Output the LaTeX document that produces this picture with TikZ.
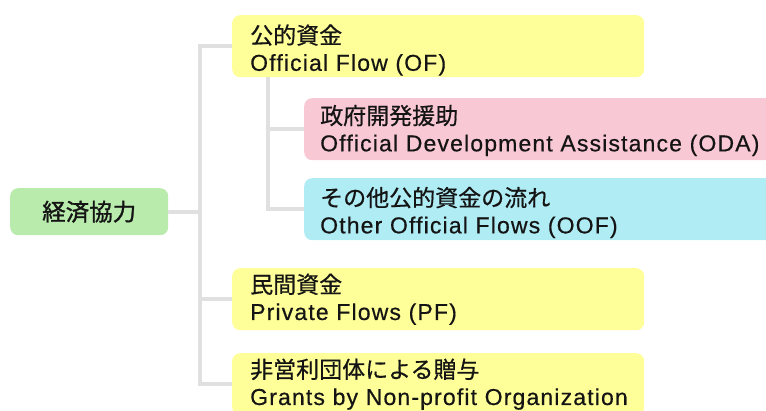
\documentclass[tikz,border=0pt]{standalone}
\usepackage{fontspec}
\newfontfamily\enfont[LetterSpace=5,FakeBold=0.5]{Liberation Sans}
\newfontfamily\cjk[FakeBold=0.6]{Noto Sans CJK JP}
\newfontfamily\cjkb[FakeBold=1.2]{Noto Sans CJK JP}
\definecolor{yel}{RGB}{255,255,153}
\definecolor{pnk}{RGB}{248,200,212}
\definecolor{cyn}{RGB}{176,236,244}
\definecolor{grn}{RGB}{184,235,172}
\definecolor{lin}{RGB}{224,224,224}
\definecolor{txt}{RGB}{20,20,20}
\newcommand\topstrut[1]{\rule{0pt}{#1}}
\tikzset{
  boxbase/.style={rounded corners=8pt, inner xsep=18pt, inner ysep=0pt, align=left,
    anchor=north west, minimum height=62pt, text=txt,
    font=\fontsize{23}{27}\selectfont\enfont},
  conn/.style={draw=lin, line width=4pt},
}
\begin{document}
\begin{tikzpicture}[x=1pt,y=1pt]
\useasboundingbox (0,0) rectangle (766,410);
% boxes
\node[boxbase, fill=grn, text width=122pt, minimum height=47pt, align=center,
  font=\fontsize{23.5}{27}\selectfont\cjkb] (ec) at (10,222) {経済協力};
\node[boxbase, fill=yel, text width=376pt] (of) at (232,395) {\topstrut{27pt}{\cjk 公的資金}\\Official Flow (OF)};
\node[boxbase, fill=pnk, inner xsep=16pt, text width=454pt] (oda) at (304,312) {\topstrut{22pt}{\cjk 政府開発援助}\\Official Development Assistance (ODA)};
\node[boxbase, fill=cyn, inner xsep=16pt, text width=454pt] (oof) at (304,232) {\topstrut{26pt}{\cjk その他公的資金の流れ}\\Other Official Flows (OOF)};
\node[boxbase, fill=yel, text width=376pt] (pf) at (232,142) {\topstrut{18pt}{\cjk 民間資金}\\Private Flows (PF)};
\node[boxbase, fill=yel, text width=376pt] (gr) at (232,57) {\topstrut{17pt}{\cjk 非営利団体による贈与}\\Grants by Non-profit Organization};
% connectors
\coordinate (t1) at (200,0);
\coordinate (t2) at (268,0);
\draw[conn] (ec.east) -- (ec.east -| t1);
\draw[conn] (of.west) -- (of.west -| t1) -- (gr.west -| t1) -- (gr.west);
\draw[conn] (pf.west -| t1) -- (pf.west);
\draw[conn] (of.south -| t2) -- (oof.west -| t2) -- (oof.west);
\draw[conn] (oda.west -| t2) -- (oda.west);
\end{tikzpicture}
\end{document}
